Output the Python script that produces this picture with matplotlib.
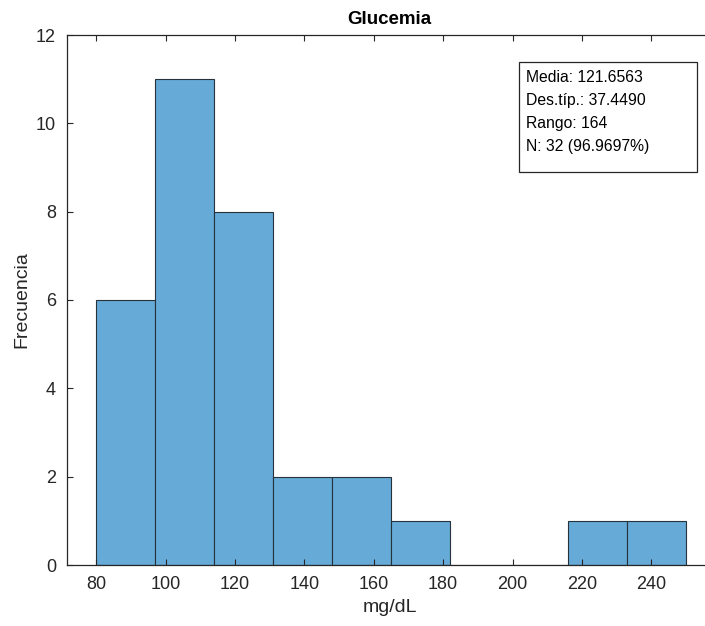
import matplotlib
matplotlib.use('Agg')
import matplotlib.pyplot as plt
from matplotlib.patches import Rectangle

# Datos del histograma
bin_edges = [80, 97, 114, 131, 148, 165, 182, 199, 216, 233, 250]
counts = [6, 11, 8, 2, 2, 1, 0, 0, 1, 1]
xticks = [80, 100, 120, 140, 160, 180, 200, 220, 240]
yticks = [0, 2, 4, 6, 8, 10, 12]
stats_lines = ["Media: 121.6563", "Des.típ.: 37.4490", "Rango: 164", "N: 32 (96.9697%)"]

plt.rcParams['font.family'] = ['Liberation Sans', 'DejaVu Sans']

W, H = 705, 626
fig = plt.figure(figsize=(W / 100, H / 100), dpi=100)
# el eje se sale por la derecha (figura recortada)
ax = fig.add_axes([67 / W, 1 - 565 / H, (712 - 67) / W, (565 - 35) / H])

lefts = bin_edges[:-1]
widths = [b - a for a, b in zip(bin_edges[:-1], bin_edges[1:])]
ax.bar(lefts, counts, width=widths, align='edge', color='#66AAD7',
       edgecolor='#26323c', linewidth=0.8)

ax.set_xlim(71.6, 71.6 + (712 - 67) / 3.47)
ax.set_ylim(0, 12)
ax.set_xticks(xticks)
ax.set_yticks(yticks)
ax.tick_params(direction='in', length=4, width=0.8, labelsize=13,
               colors='#262626', top=True, right=False, pad=8)
for s in ax.spines.values():
    s.set_color('#262626')
    s.set_linewidth(0.9)

ax.set_xlabel('mg/dL', fontsize=14, color='#262626', labelpad=4)
ax.set_ylabel('Frecuencia', fontsize=14, color='#262626', labelpad=4)
ax.set_title('Glucemia', fontsize=13.5, fontweight='bold', pad=8)

# Cuadro de estadísticas (coordenadas de figura, en píxeles)
def fx(px):
    return px / W

def fy(py):
    return 1 - py / H

fig.patches.append(Rectangle((fx(519), fy(172)), fx(697) - fx(519), fy(62) - fy(172),
                             transform=fig.transFigure, facecolor='white',
                             edgecolor='#262626', linewidth=0.9, zorder=5))
for i, line in enumerate(stats_lines):
    fig.text(fx(526), fy(77 + 23.3 * i), line, fontsize=11.3, va='center', ha='left',
             color='black', zorder=6)

fig.savefig('out.png', dpi=100)
